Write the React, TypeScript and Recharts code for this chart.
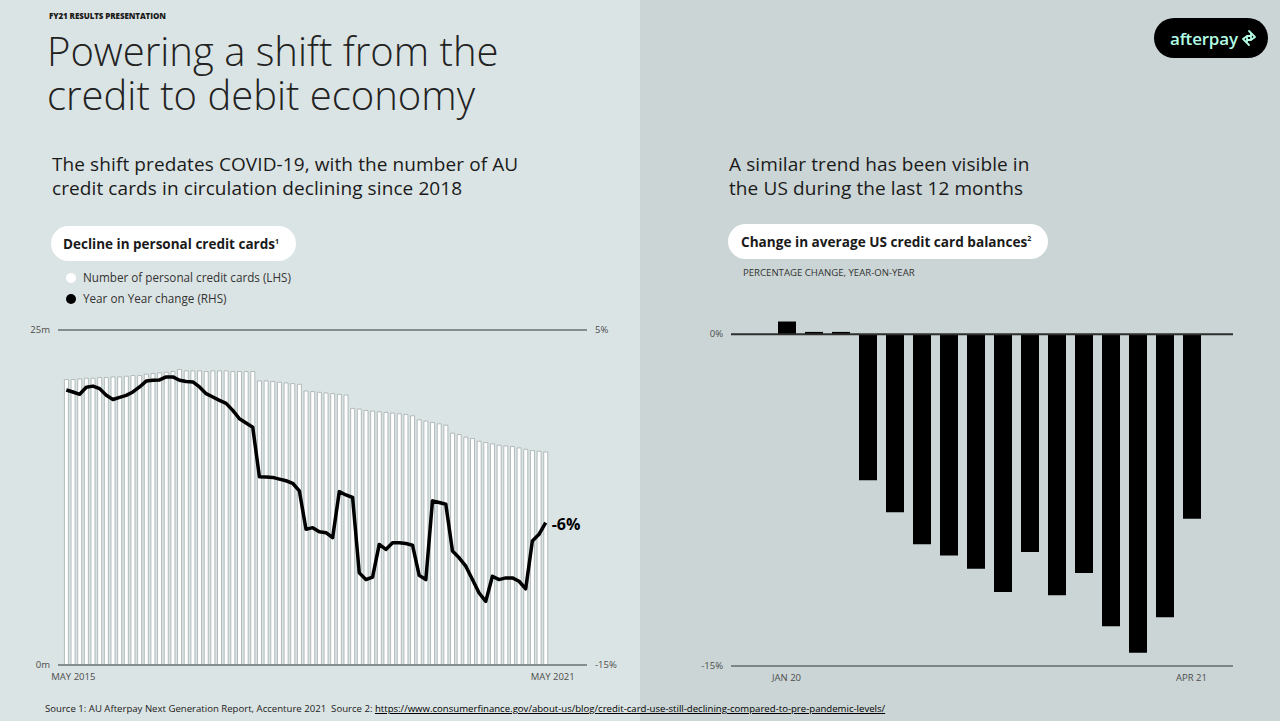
import React from 'react';
import { ComposedChart, BarChart, Bar, Line, XAxis, YAxis, ReferenceLine, LabelList } from 'recharts';

const MONTHS = ['Jan', 'Feb', 'Mar', 'Apr', 'May', 'Jun', 'Jul', 'Aug', 'Sep', 'Oct', 'Nov', 'Dec'];

// AU personal credit cards, millions (LHS), monthly May 2015 - May 2021
const auCards = [
  21.3, 21.3, 21.35, 21.4, 21.4, 21.45, 21.45, 21.5, 21.5, 21.55, 21.6, 21.6, 21.7, 21.75, 21.8, 21.85,
  21.9, 22.05, 21.95, 21.95, 21.95, 21.9, 21.95, 21.95, 21.95, 21.9, 21.9, 21.9, 21.9,
  21.2, 21.2, 21.15, 21.1, 21.05, 21.0, 20.95,
  20.45, 20.4, 20.35, 20.3, 20.25, 20.2, 20.15,
  19.15, 19.1, 19.0, 18.95, 18.9, 18.85, 18.8, 18.75, 18.7, 18.6,
  18.3, 18.2, 18.1, 18.0, 17.9,
  17.3, 17.2, 17.0, 16.9, 16.7, 16.6, 16.5, 16.4, 16.35, 16.3, 16.2, 16.1, 16.0, 15.95, 15.9,
];

// Year on year change, % (RHS)
const auYoY = [
  1.42, 1.3, 1.16, 1.58, 1.65, 1.5, 1.1, 0.85, 0.98, 1.1, 1.3, 1.6, 1.95, 2.0, 2.02, 2.2,
  2.2, 2.0, 1.92, 1.9, 1.6, 1.2, 1.0, 0.8, 0.62, 0.2, -0.3, -0.55, -0.8,
  -3.76, -3.78, -3.8, -3.9, -4.0, -4.15, -4.6,
  -6.9, -6.8, -7.05, -7.1, -7.4, -4.65, -4.85,
  -5.0, -9.5, -9.9, -9.75, -7.8, -8.1, -7.7, -7.7, -7.75, -7.85,
  -9.65, -9.9, -5.2, -5.3, -5.4,
  -8.2, -8.6, -9.1, -9.9, -10.7, -11.2, -9.7, -9.9, -9.8, -9.8, -10.0, -10.45, -7.6, -7.2, -6.5,
];

const auLabels = auCards.map((_, i) => `${MONTHS[(4 + i) % 12]} ${2015 + Math.floor((4 + i) / 12)}`);
const auTicks = [auLabels[0], auLabels[auLabels.length - 1]];

// Change in average US credit card balances, % YoY
const usMonths = ['Jan 20', 'Feb 20', 'Mar 20', 'Apr 20', 'May 20', 'Jun 20', 'Jul 20', 'Aug 20',
  'Sep 20', 'Oct 20', 'Nov 20', 'Dec 20', 'Jan 21', 'Feb 21', 'Mar 21', 'Apr 21'];
const usChange = [0.57, 0.1, 0.1, -6.6, -8.05, -9.5, -10.0, -10.6, -11.65, -9.85, -11.8, -10.8, -13.2, -14.4, -12.8, -8.35];
const usTicks = ['Jan 20', 'Apr 21'];

const FONT = '"Open Sans", "Noto Sans", sans-serif';
const tickStyle = { fontSize: 9.5, fill: '#4d4d4d', fontFamily: FONT };

export default function App() {
  const auData = auLabels.map((name, i) => ({ name, cards: auCards[i], yoy: auYoY[i] }));
  const usData = usMonths.map((name, i) => ({ name, change: usChange[i] }));

  const abs = (left: number, top: number): React.CSSProperties => ({ position: 'absolute', left, top, whiteSpace: 'nowrap' });

  return (
    <div style={{ position: 'absolute', left: 0, top: 0, width: 1280, height: 721, overflow: 'hidden', fontFamily: FONT, color: '#1a1a1a' }}>
      <div style={{ ...abs(0, 0), width: 640, height: 721, background: '#dbe4e4' }} />
      <div style={{ ...abs(640, 0), width: 640, height: 721, background: '#cbd5d5' }} />

      <div style={{ ...abs(49, 10), fontSize: 8, fontWeight: 800, letterSpacing: -0.1 }}>FY21 RESULTS PRESENTATION</div>
      <div style={{ ...abs(47, 30), fontSize: 40, fontWeight: 300, lineHeight: '42px', height: 42, color: '#222' }}>Powering a shift from the</div>
      <div style={{ ...abs(47, 74), fontSize: 40, fontWeight: 300, lineHeight: '42px', height: 42, color: '#222' }}>credit to debit economy</div>

      <div style={{ ...abs(52, 152), fontSize: 19, lineHeight: '24px', letterSpacing: 0.1, color: '#1a1a1a' }}>
        The shift predates COVID-19, with the number of AU<br />credit cards in circulation declining since 2018
      </div>
      <div style={{ ...abs(729, 152), fontSize: 19, lineHeight: '24px', letterSpacing: 0.1, color: '#1a1a1a' }}>
        A similar trend has been visible in<br />the US during the last 12 months
      </div>

      {/* logo */}
      <div style={{ ...abs(1154, 18), width: 114, height: 40, borderRadius: 20, background: '#000', display: 'flex', alignItems: 'center' }}>
        <span style={{ marginLeft: 16, color: '#b2fce4', fontSize: 17, fontWeight: 600, letterSpacing: -0.2 }}>afterpay</span>
        <svg width={18} height={18} viewBox="0 0 18 18" style={{ marginLeft: 2 }}>
          <path d="M9 2 L15 8 L11 11 M9 16 L3 10 L7 7 M11 4 L11 11 L8 11 M7 14 L7 7 L10 7" fill="none" stroke="#b2fce4" strokeWidth={1.8} strokeLinejoin="round" strokeLinecap="round" />
        </svg>
      </div>

      {/* left header pill + legend */}
      <div style={{ ...abs(51, 226), width: 245, height: 35, borderRadius: 18, background: '#fff' }} />
      <div style={{ ...abs(63, 235), fontSize: 13.5, fontWeight: 700 }}>
        Decline in personal credit cards<sup style={{ fontSize: 7 }}>1</sup>
      </div>
      <div style={{ ...abs(66, 273), width: 10, height: 10, borderRadius: 5, background: '#fff' }} />
      <div style={{ ...abs(83, 269), fontSize: 11.7, color: '#333' }}>Number of personal credit cards (LHS)</div>
      <div style={{ ...abs(66, 294), width: 10, height: 10, borderRadius: 5, background: '#000' }} />
      <div style={{ ...abs(83, 290), fontSize: 11.7, color: '#333' }}>Year on Year change (RHS)</div>

      {/* right header pill */}
      <div style={{ ...abs(728, 224), width: 320, height: 35, borderRadius: 18, background: '#fff' }} />
      <div style={{ ...abs(741, 232), fontSize: 13.6, fontWeight: 700 }}>
        Change in average US credit card balances<sup style={{ fontSize: 7 }}>2</sup>
      </div>
      <div style={{ ...abs(743, 266), fontSize: 9.6, color: '#333' }}>PERCENTAGE CHANGE, YEAR-ON-YEAR</div>

      {/* left chart */}
      <div style={abs(0, 300)}>
        <ComposedChart width={640} height={400} data={auData} margin={{ top: 30, right: 0, bottom: 5, left: 0 }} barCategoryGap={1.4}>
          <XAxis dataKey="name" ticks={auTicks} interval={0} tickLine={false} axisLine={false} height={30}
            padding={{ left: 5, right: 38 }} tick={{ ...tickStyle, dx: 7 }} tickFormatter={(v: string) => v.toUpperCase()} />
          <YAxis yAxisId="left" domain={[0, 25]} ticks={[0, 25]} width={58} tickLine={false} axisLine={false}
            tick={tickStyle} tickFormatter={(v: number) => `${v}m`} />
          <YAxis yAxisId="right" orientation="right" domain={[-15, 5]} ticks={[-15, 5]} width={53} tickLine={false} axisLine={false}
            tick={tickStyle} tickFormatter={(v: number) => `${v}%`} />
          <Bar yAxisId="left" dataKey="cards" fill="#ffffff" stroke="#a3acac" strokeWidth={0.8} isAnimationActive={false} />
          <ReferenceLine yAxisId="left" y={25} stroke="#858d8d" strokeWidth={2} />
          <ReferenceLine yAxisId="left" y={0} stroke="#858d8d" strokeWidth={2} />
          <Line yAxisId="right" dataKey="yoy" type="linear" stroke="#000" strokeWidth={3.5} strokeLinejoin="round" dot={false} isAnimationActive={false}>
            <LabelList dataKey="yoy" content={(p: any) => p.index === auYoY.length - 1 ? (
              <text x={p.x + 6} y={p.y + 7} fontSize={16} fontWeight={700} fill="#000" fontFamily={FONT}>-6%</text>
            ) : null} />
          </Line>
        </ComposedChart>
      </div>

      {/* right chart */}
      <div style={abs(640, 290)}>
        <BarChart width={640} height={400} data={usData} margin={{ top: 22, right: 47, bottom: 4, left: 0 }}>
          <XAxis dataKey="name" ticks={usTicks} interval={0} tickLine={false} axisLine={false} height={20}
            padding={{ left: 42, right: 28 }} tick={tickStyle} tickFormatter={(v: string) => v.toUpperCase()} />
          <YAxis domain={[-15, 1]} ticks={[-15, 0]} width={91} tickLine={false} axisLine={false}
            tick={tickStyle} tickFormatter={(v: number) => `${v}%`} />
          <Bar dataKey="change" fill="#000" barSize={18} isAnimationActive={false} />
          <ReferenceLine y={0} stroke="#2e2e2e" strokeWidth={2} />
          <ReferenceLine y={-15} stroke="#7d8585" strokeWidth={2} />
        </BarChart>
      </div>

      {/* footer */}
      <div style={{ ...abs(45, 702), fontSize: 9.6, color: '#222' }}>
        Source 1: AU Afterpay Next Generation Report, Accenture 2021&nbsp; Source 2: <span style={{ textDecoration: 'underline', color: '#000' }}>https://www.consumerfinance.gov/about-us/blog/credit-card-use-still-declining-compared-to-pre-pandemic-levels/</span>
      </div>
    </div>
  );
}
